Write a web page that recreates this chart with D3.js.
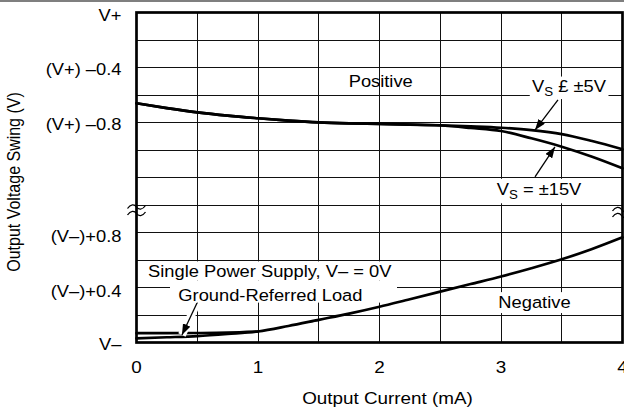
<!DOCTYPE html>
<html><head><meta charset="utf-8">
<script src="https://cdn.jsdelivr.net/npm/d3@7"></script>
<style>html,body{margin:0;padding:0;background:#fff;} svg{display:block;}</style>
</head><body>
<svg id="c" width="624" height="412"></svg>
<script>
// ---------- data ----------
const currentMA   = [0,0.25,0.5,0.75,1,1.25,1.5,1.75,2,2.25,2.5,2.75,3,3.25,3.5,3.75,4];
// positive swing, volts below V+
const posVs5      = [-0.66,-0.695,-0.726,-0.75,-0.769,-0.786,-0.799,-0.806,-0.81,-0.815,-0.82,-0.828,-0.838,-0.855,-0.884,-0.935,-0.995];
const posVs15     = [-0.66,-0.695,-0.726,-0.75,-0.769,-0.786,-0.799,-0.806,-0.81,-0.815,-0.822,-0.84,-0.862,-0.915,-0.976,-1.049,-1.133];
// negative swing, volts above V–
const negDual     = [0.03,0.038,0.047,0.062,0.08,0.12,0.165,0.21,0.26,0.315,0.37,0.425,0.48,0.54,0.605,0.68,0.765];
const singleMA    = [0,0.25,0.5,0.75,1];
const negSingle   = [0.068,0.068,0.069,0.072,0.08];
const xTickValues = [0,1,2,3,4];
const xTickLabels = ["0","1","2","3","4"];
const yTopValues  = [0,-0.4,-0.8];
const yTopLabels  = ["V+","(V+) –0.4","(V+) –0.8"];
const yBotValues  = [0.8,0.4,0];
const yBotLabels  = ["(V–)+0.8","(V–)+0.4","V–"];

// ---------- setup ----------
const SX = 1.11, FS = 16.5, FONT = "Liberation Sans, Arial, Helvetica, sans-serif";
const svg = d3.select("#c").attr("font-family", FONT);
const x    = d3.scaleLinear().domain([0,4]).range([136.5,622.5]);
const yPos = d3.scaleLinear().domain([0,-1.4]).range([12.5,205]);
const yNeg = d3.scaleLinear().domain([0,1.0]).range([342.5,205]);

// top page rule
svg.append("line").attr("x1",0).attr("x2",624).attr("y1",1).attr("y2",1)
   .attr("stroke","#000").attr("stroke-width",1.2);

// markers
const defs = svg.append("defs");
defs.append("marker").attr("id","ah").attr("markerUnits","userSpaceOnUse")
  .attr("viewBox","0 0 11 8").attr("refX",11).attr("refY",4)
  .attr("markerWidth",11).attr("markerHeight",8).attr("orient","auto")
  .append("path").attr("d","M0,0 L11,4 L0,8 z").attr("fill","#000");

// ---------- grid ----------
const grid = svg.append("g").attr("stroke","#111").attr("stroke-width",1).attr("shape-rendering","crispEdges");
x.ticks(8).forEach(v => grid.append("line").attr("x1",x(v)).attr("x2",x(v)).attr("y1",12.5).attr("y2",342.5));
yPos.ticks(7).forEach(v => grid.append("line").attr("x1",x(0)).attr("x2",x(4)).attr("y1",yPos(v)).attr("y2",yPos(v)));
yNeg.ticks(5).forEach(v => grid.append("line").attr("x1",x(0)).attr("x2",x(4)).attr("y1",yNeg(v)).attr("y2",yNeg(v)));

// frame
svg.append("rect").attr("x",x(0)).attr("y",yPos(0)).attr("width",x(4)-x(0)).attr("height",yNeg(0)-yPos(0))
  .attr("fill","none").attr("stroke","#000").attr("stroke-width",2.7);

// break marks
function tilde(cx, cy){
  svg.append("path").attr("d",`M${cx-9},${cy+1.5} C${cx-6},${cy-3} ${cx-2},${cy-3} ${cx},${cy} S${cx+6},${cy+3} ${cx+9},${cy-1.5}`)
    .attr("fill","none").attr("stroke","#000").attr("stroke-width",1.3);
}
tilde(x(0), 207); tilde(x(0), 213.5);
tilde(x(4)-1, 209.5); tilde(x(4)-1, 215.5);

// ---------- text helpers ----------
function txt(x0, y0, s, anchor, size){
  const g = svg.append("g").attr("transform",`translate(${x0},${y0}) scale(${SX},1)`);
  const t = g.append("text").attr("text-anchor",anchor||"start").attr("font-size",size||FS).attr("fill","#000");
  if (s !== null) t.text(s);
  return {g,t};
}
function bg(o, px, py){
  const b = o.t.node().getBBox();
  o.g.insert("rect","text").attr("x",b.x-px).attr("y",b.y-py).attr("width",b.width+2*px).attr("height",b.height+2*py).attr("fill","#fff");
}
function vsLabel(x0, y0, rest){
  const o = txt(x0, y0, null);
  o.t.append("tspan").text("V");
  o.t.append("tspan").attr("font-size",12).attr("dy",4.5).text("S");
  o.t.append("tspan").attr("dy",-4.5).text(rest);
  return o;
}

// ---------- tick labels ----------
xTickValues.forEach((v,i) => txt(x(v), 373, xTickLabels[i], "middle", 17));
yTopValues.forEach((v,i) => txt(121.5, yPos(v) + (i===0 ? 8.5 : 7), yTopLabels[i], "end"));
yBotValues.forEach((v,i) => txt(121.5, yNeg(v) + (i===2 ? 7.5 : 9.5), yBotLabels[i], "end"));

// axis titles
txt(387.5, 403.5, "Output Current (mA)", "middle", 17);
svg.append("text").attr("transform",`translate(19.5,182) rotate(-90) scale(1,${SX})`)
  .attr("text-anchor","middle").attr("font-size",16).text("Output Voltage Swing (V)");

// ---------- annotations ----------
txt(x(2.01), yPos(-0.54), "Positive", "middle");
const l5 = vsLabel(x(3.255), yPos(-0.576), " £ ±5V"); bg(l5, 2, 0);
const l15 = vsLabel(x(2.965), yPos(-1.327), " = ±15V"); bg(l15, 3, 1);
const neg = txt(x(2.978), yNeg(0.249), "Negative"); bg(neg, 2, 1);

// single supply block background
svg.append("rect").attr("x",146).attr("y",yNeg(0.59)).attr("width",247).attr("height",yNeg(0.45)-yNeg(0.59)).attr("fill","#fff");
svg.append("rect").attr("x",170).attr("y",yNeg(0.45)).attr("width",227).attr("height",yNeg(0.29)-yNeg(0.45)).attr("fill","#fff");
txt(x(0.095), yNeg(0.474), "Single Power Supply, V– = 0V");
txt(x(0.344), yNeg(0.305), "Ground-Referred Load");

// ---------- curves ----------
const lineP = d3.line().x((d,i)=>x(currentMA[i])).y(d=>yPos(d)).curve(d3.curveMonotoneX);
const lineN = d3.line().x((d,i)=>x(currentMA[i])).y(d=>yNeg(d)).curve(d3.curveMonotoneX);
const lineS = d3.line().x((d,i)=>x(singleMA[i])).y(d=>yNeg(d)).curve(d3.curveMonotoneX);
const cg = svg.append("g").attr("fill","none").attr("stroke","#000").attr("stroke-width",2.7).attr("stroke-linecap","round");
cg.append("path").attr("d", lineP(posVs5));
cg.append("path").attr("d", lineP(posVs15));
cg.append("path").attr("d", lineN(negDual));
cg.append("path").attr("d", lineS(negSingle));

// ---------- arrows ----------
function arrow(x1,y1,x2,y2,halo){
  if (halo){
    svg.append("line").attr("x1",x1).attr("y1",y1).attr("x2",x2).attr("y2",y2)
      .attr("stroke","#fff").attr("stroke-width",8);
  }
  svg.append("line").attr("x1",x1).attr("y1",y1).attr("x2",x2).attr("y2",y2)
    .attr("stroke","#000").attr("stroke-width",1.3).attr("marker-end","url(#ah)");
}
arrow(x(3.469), yPos(-0.636), x(3.28), yPos(-0.855), false);
arrow(x(3.28), yPos(-1.196), x(3.444), yPos(-0.978), false);
arrow(x(0.498), yNeg(0.287), x(0.374), yNeg(0.055), true);
</script>
</body></html>
